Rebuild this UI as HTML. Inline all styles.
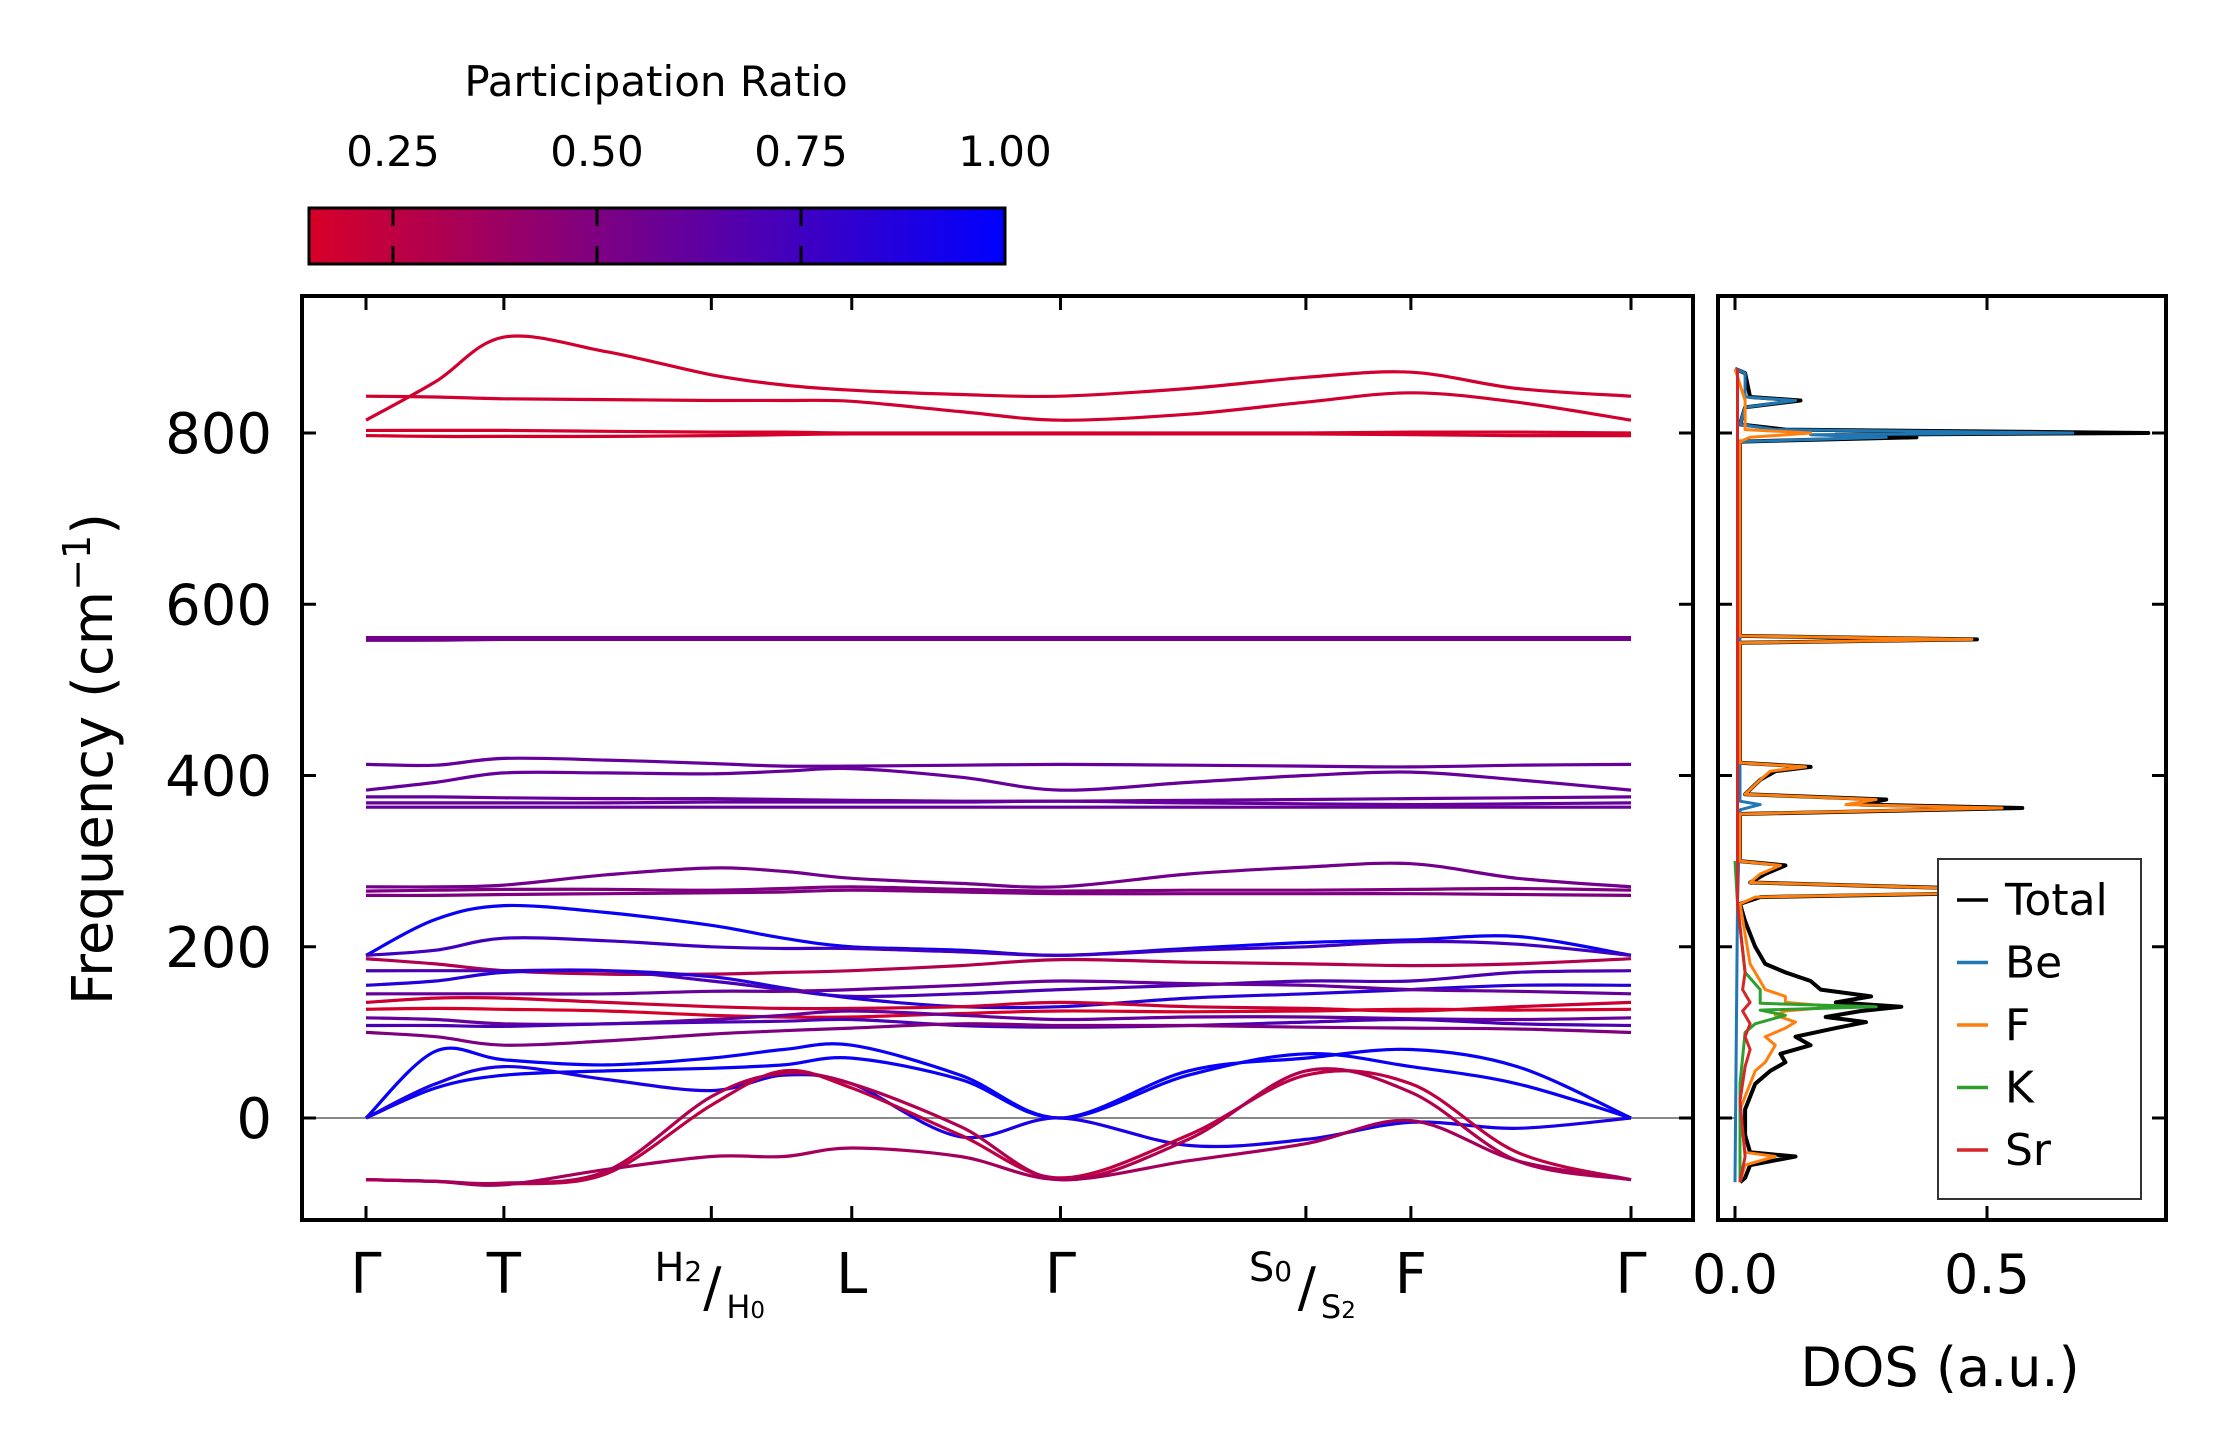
<!DOCTYPE html>
<html><head><meta charset="utf-8">
<style>
html,body{margin:0;padding:0;background:#fff;}
svg{display:block;font-family:"DejaVu Sans","Liberation Sans",sans-serif;}
</style></head>
<body>
<svg id="fig" width="2222" height="1455" viewBox="0 0 2222 1455" xmlns="http://www.w3.org/2000/svg">
<defs>
  <linearGradient id="cmap" x1="0" x2="1" y1="0" y2="0">
    <stop offset="0" stop-color="rgb(215,0,40)"/>
    <stop offset="1" stop-color="rgb(0,0,255)"/>
  </linearGradient>
  <clipPath id="mainClip"><rect x="302" y="296" width="1391" height="924"/></clipPath>
  <clipPath id="dosClip"><rect x="1718" y="296" width="448" height="924"/></clipPath>
</defs>
<g id="colorbar">
  <text x="656" y="96" font-size="42" text-anchor="middle">Participation Ratio</text>
  <rect x="309" y="208" width="696" height="56" fill="url(#cmap)" stroke="#000" stroke-width="3"/>
</g>
<g id="bands" clip-path="url(#mainClip)"></g>
<g id="dos" clip-path="url(#dosClip)"></g>
<g id="axes"></g>
</svg>
<script>
// ---------- data ----------
const kLabels = ["Γ","T","H","L","Γ","S","F","Γ"];
const kTicks = [0, 0.109, 0.273, 0.384, 0.549, 0.743, 0.826, 1.0];
const kSamples = [0,0.055,0.109,0.19,0.273,0.33,0.384,0.47,0.549,0.65,0.743,0.826,0.91,1.0];
const yTicks = [0,200,400,600,800];
const prTicks = [0.25,0.50,0.75,1.00];
const bandPR = [0.17,0.17,0.16,0.16,0.55,0.55,0.6,0.6,0.6,0.6,0.6,0.55,0.5,0.5,0.97,0.75,0.3,0.7,0.85,0.6,0.2,0.15,0.6,0.7,0.5,0.97,0.97,0.9,0.25,0.3,0.35];
const bandFreq = [
 [815,860,912,895,868,856,850,845,843,852,865,871,852,843],
 [843,842,840,839,838,838,837,825,815,822,836,847,836,815],
 [803,803,803,802,801,801,800,800,800,800,800,801,801,800],
 [797,796,796,796,797,798,799,799,799,799,799,798,797,797],
 [561,561,561,561,561,561,561,561,561,561,561,561,561,561],
 [558,558,559,559,559,559,559,559,559,559,559,559,559,559],
 [413,412,420,418,414,411,411,412,413,412,411,410,412,413],
 [383,392,403,403,402,405,408,398,383,392,400,404,395,383],
 [375,375,374,373,373,372,371,370,370,371,372,373,374,375],
 [368,368,368,368,369,369,369,369,370,368,367,366,367,368],
 [363,363,363,363,363,363,363,363,363,363,363,363,363,363],
 [270,270,272,284,292,288,280,274,270,285,293,297,280,270],
 [265,266,267,267,266,268,270,267,265,266,266,267,268,266],
 [260,260,261,262,263,264,266,264,262,262,262,262,261,260],
 [190,232,248,240,225,210,200,196,190,198,205,208,212,190],
 [190,196,210,207,200,198,198,194,190,196,200,206,203,190],
 [186,180,172,168,168,170,172,178,185,182,180,178,180,186],
 [172,172,172,172,160,150,142,145,150,155,160,160,170,172],
 [155,160,170,172,165,152,140,130,130,140,145,150,155,155],
 [145,145,145,145,148,148,150,155,160,157,155,150,148,145],
 [135,140,140,135,130,128,128,130,135,130,128,125,130,135],
 [127,128,127,125,120,118,118,122,125,124,125,127,126,127],
 [117,115,110,110,115,120,125,120,115,118,118,116,115,117],
 [108,108,107,110,112,113,115,108,106,108,112,115,110,108],
 [100,95,85,90,98,102,105,110,108,108,106,105,104,100],
 [0,78,68,62,70,80,85,50,0,50,75,60,40,0],
 [0,35,50,55,58,62,70,45,0,55,70,80,60,0],
 [0,40,60,45,32,50,40,-22,0,-32,-25,-5,-12,0],
 [-72,-74,-77,-65,15,55,35,-20,-70,-20,50,40,-40,-72],
 [-72,-74,-76,-62,25,52,40,-10,-72,-25,55,30,-50,-72],
 [-72,-74,-78,-60,-45,-45,-35,-45,-72,-50,-30,-3,-50,-72]
];
const dosNames = ["Total","Be","F","K","Sr"];
const dosColors = ["#000000","#1f77b4","#ff7f0e","#2ca02c","#d62728"];
const dosTotal = [[-75,0.01],[-70,0.02],[-55,0.03],[-45,0.12],[-40,0.03],[-20,0.02],[10,0.02],[40,0.04],[55,0.07],[65,0.1],[75,0.09],[85,0.15],[95,0.12],[105,0.2],[112,0.26],[118,0.18],[125,0.25],[130,0.33],[135,0.2],[142,0.27],[150,0.17],[160,0.15],[170,0.1],[180,0.06],[200,0.04],[230,0.02],[250,0.01],[258,0.05],[262,0.42],[268,0.46],[275,0.03],[285,0.06],[295,0.1],[300,0.01],[355,0.01],[362,0.57],[366,0.25],[372,0.3],[378,0.02],[395,0.05],[405,0.08],[410,0.15],[415,0.01],[555,0.01],[559,0.48],[563,0.01],[790,0.01],[795,0.36],[798,0.2],[800,0.82],[804,0.1],[810,0.01],[830,0.02],[838,0.13],[842,0.03],[870,0.02],[875,0]];
const dosBe = [[-75,0],[250,0.005],[360,0.01],[366,0.05],[370,0.01],[790,0.01],[795,0.3],[798,0.15],[800,0.67],[804,0.08],[810,0.01],[830,0.02],[838,0.12],[842,0.02],[870,0.02],[875,0]];
const dosF = [[-75,0.01],[-55,0.02],[-45,0.08],[-40,0.02],[10,0.01],[55,0.04],[65,0.06],[85,0.08],[95,0.06],[105,0.1],[112,0.12],[120,0.08],[125,0.1],[130,0.2],[135,0.1],[142,0.1],[150,0.06],[160,0.05],[180,0.03],[250,0.01],[258,0.04],[262,0.4],[268,0.45],[275,0.03],[285,0.05],[295,0.09],[300,0.01],[355,0.01],[362,0.53],[366,0.22],[372,0.28],[378,0.02],[395,0.05],[405,0.07],[410,0.14],[415,0.01],[555,0.01],[559,0.47],[563,0.01],[790,0.01],[795,0.03],[800,0.15],[804,0.02],[838,0.02],[875,0]];
const dosK = [[-75,0.01],[40,0.01],[100,0.02],[110,0.04],[120,0.1],[126,0.05],[130,0.28],[134,0.05],[150,0.05],[170,0.02],[250,0.005],[300,0]];
const dosSr = [[-75,0.01],[-45,0.02],[20,0.01],[60,0.02],[80,0.03],[95,0.02],[110,0.03],[125,0.015],[135,0.03],[150,0.015],[170,0.02],[250,0.005],[875,0.005]];
const dosSeries = [dosTotal,dosBe,dosF,dosK,dosSr];
const dosTickVals = [0.0,0.5];

// ---------- scales ----------
const NS="http://www.w3.org/2000/svg";
const AX={l:302,r:1693,t:296,b:1220};
const DX={l:1718,r:2166};
const kx = k => 366 + k*(1631-366);
const fy = f => 1118 - f*(1118-433)/800;
const dx = v => 1735 + v*(1987-1735)/0.5;
const prX = p => 393 + (p-0.25)*(1005-393)/0.75;
function prColor(p){const t=Math.max(0,Math.min(1,(p-0.148)/(1-0.148)));return `rgb(${Math.round(215*(1-t))},0,${Math.round(40+215*t)})`;}
function mk(tag,attrs,parent){const e=document.createElementNS(NS,tag);for(const a in attrs)e.setAttribute(a,attrs[a]);parent.appendChild(e);return e;}
function smoothPath(pts){let d=`M${pts[0][0]},${pts[0][1]}`;for(let i=0;i<pts.length-1;i++){const p0=pts[Math.max(0,i-1)],p1=pts[i],p2=pts[i+1],p3=pts[Math.min(pts.length-1,i+2)];const c1x=p1[0]+(p2[0]-p0[0])/6,c1y=p1[1]+(p2[1]-p0[1])/6,c2x=p2[0]-(p3[0]-p1[0])/6,c2y=p2[1]-(p3[1]-p1[1])/6;d+=` C${c1x.toFixed(1)},${c1y.toFixed(1)} ${c2x.toFixed(1)},${c2y.toFixed(1)} ${p2[0].toFixed(1)},${p2[1].toFixed(1)}`;}return d;}

const svg=document.getElementById('fig');
const bandsG=document.getElementById('bands');
const dosG=document.getElementById('dos');
const axG=document.getElementById('axes');

let z=mk('line',{x1:AX.l,x2:AX.r,y1:fy(0),y2:fy(0),stroke:'#888',"stroke-width":2},bandsG);



bandFreq.forEach((vals,i)=>{
  const pts=vals.map((v,j)=>[kx(kSamples[j]),fy(v)]);
  const p=mk('path',{d:smoothPath(pts),fill:'none',stroke:prColor(bandPR[i]),"stroke-width":3.2},bandsG);
  
  
});

let dz=mk('line',{x1:DX.l,x2:dx(0),y1:fy(0),y2:fy(0),stroke:'#888',"stroke-width":2},dosG);


dosSeries.forEach((s,i)=>{
  const pts=s.map(q=>`${dx(q[1]).toFixed(1)},${fy(q[0]).toFixed(1)}`).join(' ');
  const pl=mk('polyline',{points:pts,fill:'none',stroke:dosColors[i],"stroke-width":i===0?4:3,"stroke-linejoin":'round'},dosG);
  
  
});

[[AX.l,AX.r,'main-axes-frame'],[DX.l,DX.r,'dos-axes-frame']].forEach(a=>{
  const r=mk('rect',{x:a[0],y:AX.t,width:a[1]-a[0],height:AX.b-AX.t,fill:'none',stroke:'#000',"stroke-width":4},axG);
  
  
});
yTicks.forEach(v=>{
  const y=fy(v);
  [[AX.l,1],[AX.r,-1],[DX.l,1],[DX.r,-1]].forEach(s=>mk('line',{x1:s[0],x2:s[0]+s[1]*14,y1:y,y2:y,stroke:'#000',"stroke-width":3},axG));
  const t=mk('text',{x:272,y:y+20,"font-size":56,"text-anchor":'end'},axG);
  t.textContent=String(v);
  
  
});
kTicks.forEach((k,i)=>{
  const x=kx(k);
  mk('line',{x1:x,x2:x,y1:AX.b,y2:AX.b-14,stroke:'#000',"stroke-width":3},axG);
  mk('line',{x1:x,x2:x,y1:AX.t,y2:AX.t+14,stroke:'#000',"stroke-width":3},axG);
  if(kLabels[i]==='H'||kLabels[i]==='S'){
    const L=kLabels[i];
    const a=mk('text',{x:x-57,y:1281,"font-size":40},axG);a.textContent=L;
    const a2=mk('tspan',{"font-size":28,dy:0},a);a2.textContent=L==='H'?'2':'0';
    
    
    const sl=mk('text',{x:x+1,y:1306,"font-size":54,"text-anchor":'middle'},axG);sl.textContent='/';
    
    
    const b=mk('text',{x:x+15,y:1318,"font-size":32},axG);b.textContent=L;
    const b2=mk('tspan',{"font-size":23,dy:0},b);b2.textContent=L==='H'?'0':'2';
    
    
  } else {
    const t=mk('text',{x:x,y:1293,"font-size":56,"text-anchor":'middle'},axG);
    t.textContent=kLabels[i];
    
    
  }
});
dosTickVals.forEach(v=>{
  const x=dx(v);
  mk('line',{x1:x,x2:x,y1:AX.b,y2:AX.b-14,stroke:'#000',"stroke-width":3},axG);
  mk('line',{x1:x,x2:x,y1:AX.t,y2:AX.t+14,stroke:'#000',"stroke-width":3},axG);
  const t=mk('text',{x:x,y:1293,"font-size":54,"text-anchor":'middle'},axG);
  t.textContent=v.toFixed(1);
  
  
});
const yt=mk('text',{x:0,y:0,"font-size":56,"text-anchor":'middle',transform:'translate(112,759) rotate(-90)'},axG);
yt.textContent='Frequency (cm';
const ys=mk('tspan',{"font-size":38,dy:-22},yt);ys.textContent='−1';
const ye=mk('tspan',{dy:22},yt);ye.textContent=')';


const xt=mk('text',{x:1940,y:1386,"font-size":54,"text-anchor":'middle'},axG);
xt.textContent='DOS (a.u.)';



const cb=document.getElementById('colorbar');
prTicks.forEach(p=>{
  const x=prX(p);
  if(p<1){
    mk('line',{x1:x,x2:x,y1:208,y2:226,stroke:'#000',"stroke-width":3},cb);
    mk('line',{x1:x,x2:x,y1:246,y2:264,stroke:'#000',"stroke-width":3},cb);
  }
  const t=mk('text',{x:x,y:166,"font-size":42,"text-anchor":'middle'},cb);
  t.textContent=p.toFixed(2);
  
  
});

const lg=mk('g',{},axG);


mk('rect',{x:1938,y:859,width:203,height:340,fill:'#fff',stroke:'#333',"stroke-width":2},lg);
dosNames.forEach((n,i)=>{
  const y=900+i*62.5;
  mk('line',{x1:1957,x2:1988,y1:y,y2:y,stroke:dosColors[i],"stroke-width":3.5},lg);
  const t=mk('text',{x:2005,y:y+15,"font-size":44},lg);
  t.textContent=n;
  
  
});
</script>
</body></html>
